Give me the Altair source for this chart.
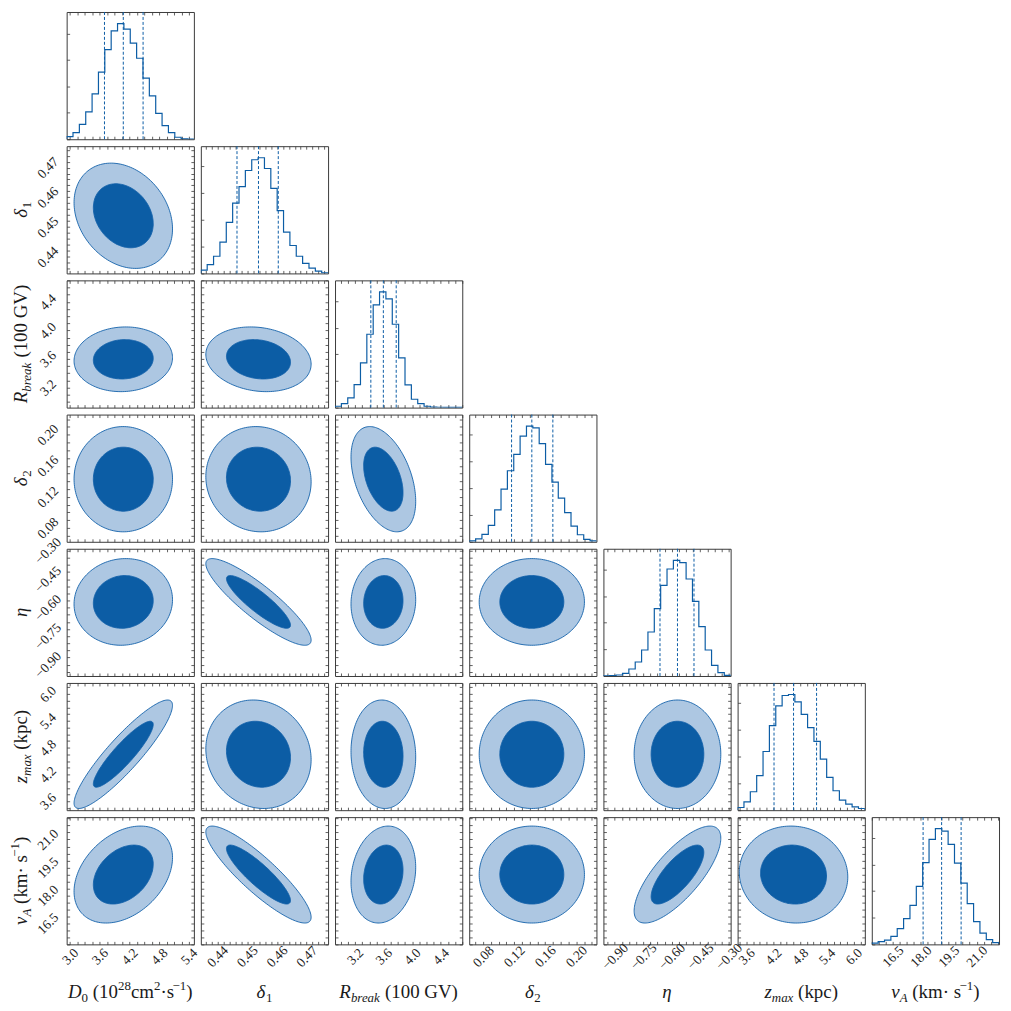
import altair as alt
import numpy as np
import pandas as pd

# ---------------- data ----------------
names = ["D0", "delta1", "Rbreak", "delta2", "eta", "zmax", "vA"]
lo = [2.93, 0.4344, 2.92, 0.062, -0.96, 3.40, 15.37]
hi = [5.50, 0.4772, 4.70, 0.226, -0.29, 6.25, 22.20]
major_step = [0.6, 0.01, 0.4, 0.04, 0.15, 0.6, 1.5]
minor_step = [0.15, 0.002, 0.1, 0.01, 0.0375, 0.15, 0.375]
fmt = [".1f", ".2f", ".1f", ".2f", ".2f", ".1f", ".1f"]

q16 = [3.694, 0.44656, 3.421, 0.1166, -0.662, 4.216, 18.124]
q50 = [4.074, 0.45379, 3.596, 0.1427, -0.570, 4.653, 19.118]
q84 = [4.474, 0.46045, 3.776, 0.1698, -0.483, 5.169, 20.165]

hist_D0 = [8, 20, 45, 83, 137, 203, 271, 328, 350, 333, 291, 245, 185, 131, 78, 41, 20, 6, 1, 0.5]
hist_delta1 = [10, 26, 51, 93, 152, 209, 258, 306, 338, 344, 312, 253, 187, 123, 83, 51, 30, 16, 7, 2]
hist_Rbreak = [4, 12, 29, 69, 134, 220, 308, 347, 326, 250, 149, 68, 25, 12, 4, 1.5, 1, 0.5, 0.5, 0.5]
hist_delta2 = [3, 9, 22, 49, 95, 157, 212, 261, 315, 345, 340, 293, 231, 178, 130, 87, 47, 21, 7, 3]
hist_eta = [0.5, 1, 3, 8, 21, 42, 78, 132, 202, 272, 321, 347, 340, 291, 224, 148, 78, 32, 10, 2]
hist_zmax = [8, 25, 55, 103, 175, 252, 311, 342, 345, 323, 286, 246, 205, 152, 98, 58, 30, 18, 10, 5]
hist_vA = [4, 8, 13, 24, 47, 77, 117, 174, 245, 315, 347, 340, 300, 244, 184, 122, 68, 34, 14, 5]
hists = [hist_D0, hist_delta1, hist_Rbreak, hist_delta2, hist_eta, hist_zmax, hist_vA]

# correlation of (row param, column param), lower triangle by row
rho_rows = [
    [],
    [-0.25],
    [0.05, -0.15],
    [0.0, -0.05, -0.42],
    [0.05, -0.88, 0.05, 0.0],
    [0.90, -0.10, -0.05, 0.0, 0.0],
    [0.35, -0.88, 0.15, 0.0, 0.75, -0.05],
]
levels = [2.55, 1.55]  # outer (light), inner (dark) Mahalanobis radii

# title segments: (text, size, italic, baseline shift)
titles = [
    [("D", 19, True, 0), ("0", 13, False, 4), (" (10", 19, False, 0), ("28", 13, False, -8),
     ("cm", 19, False, 0), ("2", 13, False, -8), ("·s", 19, False, 0), ("−1", 13, False, -8), (")", 19, False, 0)],
    [("δ", 19, True, 0), ("1", 13, False, 4)],
    [("R", 19, True, 0), ("break", 13, True, 4), (" (100 GV)", 19, False, 0)],
    [("δ", 19, True, 0), ("2", 13, False, 4)],
    [("η", 19, True, 0)],
    [("z", 19, True, 0), ("max", 13, True, 4), (" (kpc)", 19, False, 0)],
    [("v", 19, True, 0), ("A", 13, True, 4), (" (km· s", 19, False, 0), ("−1", 13, False, -8), (")", 19, False, 0)],
]

# ---------------- styles ----------------
W = 128
DARK = "#0C5DA5"
LIGHT = "#ADC7E2"
EDGE = "#1361AA"
FRAME = "#3a3a3a"
TFONT = "Liberation Serif"
TCOL = "#1a1a1a"

RG = {" ": 0.25, "(": 0.333, ")": 0.333, "·": 0.25, "c": 0.444, "m": 0.778, "s": 0.389,
      "k": 0.5, "p": 0.5, "G": 0.722, "V": 0.722, "−": 0.564}
IT = {"D": 0.722, "R": 0.611, "z": 0.389, "v": 0.444, "A": 0.611, "b": 0.5, "r": 0.389,
      "e": 0.444, "a": 0.5, "k": 0.444, "m": 0.722, "x": 0.444, "δ": 0.5, "η": 0.5}

one = pd.DataFrame({"a": [0]})


def seg_w(text, size, italic):
    t = IT if italic else RG
    return sum(t.get(c, 0.5) for c in text) * size


def title_layers(segs, x, y, angle):
    total = sum(seg_w(t, s, it) for t, s, it, _ in segs)
    cur = -total / 2
    out = []
    for t, s, it, sh in segs:
        lead = len(t) - len(t.lstrip(" "))
        cur += seg_w(" " * lead, s, False)
        body = t.lstrip(" ")
        out.append(
            alt.Chart(one).mark_text(
                text=body, font=TFONT, fontSize=s, fontStyle="italic" if it else "normal",
                align="left", baseline="alphabetic", dx=cur, dy=sh, angle=angle, color=TCOL
            ).encode(x=alt.value(x), y=alt.value(y))
        )
        cur += seg_w(body, s, it)
    return out


def tick_vals(k):
    ms = minor_step[k]
    start = np.ceil(lo[k] / ms - 1e-9) * ms
    vals = np.arange(start, hi[k] + 1e-12, ms)
    return [round(float(v), 6) for v in vals if lo[k] - 1e-9 <= v <= hi[k] + 1e-9]


def lab_expr(k):
    s = major_step[k]
    return f"abs(datum.value/{s} - round(datum.value/{s})) < 0.001 ? datum.label : ''"


common = dict(domain=False, grid=False, title=None, tickSize=3, offset=-3, tickColor=FRAME,
              tickWidth=0.8, labelFont=TFONT, labelFontSize=13.5, labelColor="#222",
              labelAngle=-45, labelAlign="center", labelBaseline="middle",
              labelOverlap=False, labelFlush=False, labelBound=False)


def xaxis(k, orient, show):
    return alt.Axis(orient=orient, values=tick_vals(k), labels=show, labelExpr=lab_expr(k),
                    format=fmt[k], labelPadding=12, **common)


def yaxis(k, orient, show):
    return alt.Axis(orient=orient, values=tick_vals(k), labels=show, labelExpr=lab_expr(k),
                    format=fmt[k], labelPadding=19, **common)


def sc(k):
    return alt.Scale(domain=[lo[k], hi[k]], nice=False, zero=False)


def sigma(k):
    return (q84[k] - q16[k]) / 2


def ellipse_band(i, j, r, n=90):
    mx, my = q50[j], q50[i]
    sx, sy = sigma(j), sigma(i)
    rho = rho_rows[i][j]
    t = np.linspace(np.pi, 0, n)
    u = r * np.cos(t)
    half = np.sqrt(np.clip(r * r - u * u, 0, None))
    s = np.sqrt(1 - rho * rho)
    yc = my + sy * rho * u
    return pd.DataFrame({"x": mx + sx * u, "y1": yc - sy * s * half, "y2": yc + sy * s * half})


def ellipse_ring(i, j, r, n=160):
    mx, my = q50[j], q50[i]
    sx, sy = sigma(j), sigma(i)
    rho = rho_rows[i][j]
    t = np.linspace(0, 2 * np.pi, n)
    s = np.sqrt(1 - rho * rho)
    return pd.DataFrame({
        "x": mx + sx * r * np.cos(t),
        "y": my + sy * r * (rho * np.cos(t) + s * np.sin(t)),
        "o": np.arange(n),
    })


def add_titles(layers, i, j):
    if i == 6:
        layers += title_layers(titles[j], W / 2, W + 54, 0)
    if j == 0 and i > 0:
        layers += title_layers(titles[i], -40, W / 2, 270)
    return layers


def contour_panel(i, j):
    layers = []
    for r, col, first in [(levels[0], LIGHT, True), (levels[1], DARK, False)]:
        layers.append(
            alt.Chart(ellipse_band(i, j, r)).mark_area(color=col, clip=True, opacity=1).encode(
                x=alt.X("x:Q", scale=sc(j), axis=xaxis(j, "bottom", i == 6) if first else None),
                y=alt.Y("y1:Q", scale=sc(i), axis=yaxis(i, "left", j == 0) if first else None),
                y2="y2:Q",
            )
        )
        layers.append(
            alt.Chart(ellipse_ring(i, j, r)).mark_line(color=EDGE, strokeWidth=0.9, clip=True).encode(
                x=alt.X("x:Q", scale=sc(j), axis=None),
                y=alt.Y("y:Q", scale=sc(i), axis=None),
                order=alt.Order("o:Q"),
            )
        )
    frame = pd.DataFrame({"x": [lo[j]], "y": [lo[i]]})
    layers.append(
        alt.Chart(frame).mark_point(opacity=0, size=1).encode(
            x=alt.X("x:Q", scale=sc(j), axis=xaxis(j, "top", False)),
            y=alt.Y("y:Q", scale=sc(i), axis=yaxis(i, "right", False)),
        )
    )
    layers = add_titles(layers, i, j)
    return alt.layer(*layers).resolve_axis(x="independent", y="independent").properties(width=W, height=W)


def hist_panel(k):
    c = hists[k]
    nb = len(c)
    edges = [lo[k] + (hi[k] - lo[k]) * b / nb for b in range(nb + 1)]
    xs = [edges[0]] + edges[:nb] + [edges[nb], edges[nb]]
    ys = [0] + list(c) + [c[-1], 0]
    df = pd.DataFrame({"x": xs, "y": ys, "o": list(range(len(xs)))})
    ymax = 1.1 * max(c)
    ysc = alt.Scale(domain=[0, ymax], nice=False, zero=True)
    yvals = [v for v in range(0, int(ymax), 80)]
    hy = alt.Axis(orient="left", values=yvals, labels=False, **common)
    layers = [
        alt.Chart(df).mark_line(interpolate="step-after", color=DARK, strokeWidth=1.2, clip=True).encode(
            x=alt.X("x:Q", scale=sc(k), axis=xaxis(k, "bottom", k == 6)),
            y=alt.Y("y:Q", scale=ysc, axis=hy),
            order=alt.Order("o:Q"),
        ),
        alt.Chart(pd.DataFrame({"q": [q16[k], q50[k], q84[k]]})).mark_rule(
            color=DARK, strokeDash=[3, 2], strokeWidth=1
        ).encode(x=alt.X("q:Q", scale=sc(k), axis=None)),
        alt.Chart(pd.DataFrame({"x": [lo[k]], "y": [0]})).mark_point(opacity=0, size=1).encode(
            x=alt.X("x:Q", scale=sc(k), axis=xaxis(k, "top", False)),
            y=alt.Y("y:Q", scale=ysc, axis=None),
        ),
    ]
    layers = add_titles(layers, k, k)
    return alt.layer(*layers).resolve_axis(x="independent", y="independent").properties(width=W, height=W)


def blank():
    return alt.Chart(one).mark_text(text=" ").encode(
        x=alt.value(W / 2), y=alt.value(W / 2)
    ).properties(width=W, height=W, view=alt.ViewBackground(stroke="transparent"))


cells = []
for i in range(7):
    for j in range(7):
        if j > i:
            cells.append(blank())
        elif j == i:
            cells.append(hist_panel(i))
        else:
            cells.append(contour_panel(i, j))

chart = alt.concat(*cells, columns=7, spacing=7, bounds="flush").properties(
    padding={"left": 0, "top": 0, "right": 0, "bottom": 0}, background="white"
).configure_view(stroke=FRAME, strokeWidth=1)

chart.save("out.html", embed_options={"renderer": "svg", "actions": False})
